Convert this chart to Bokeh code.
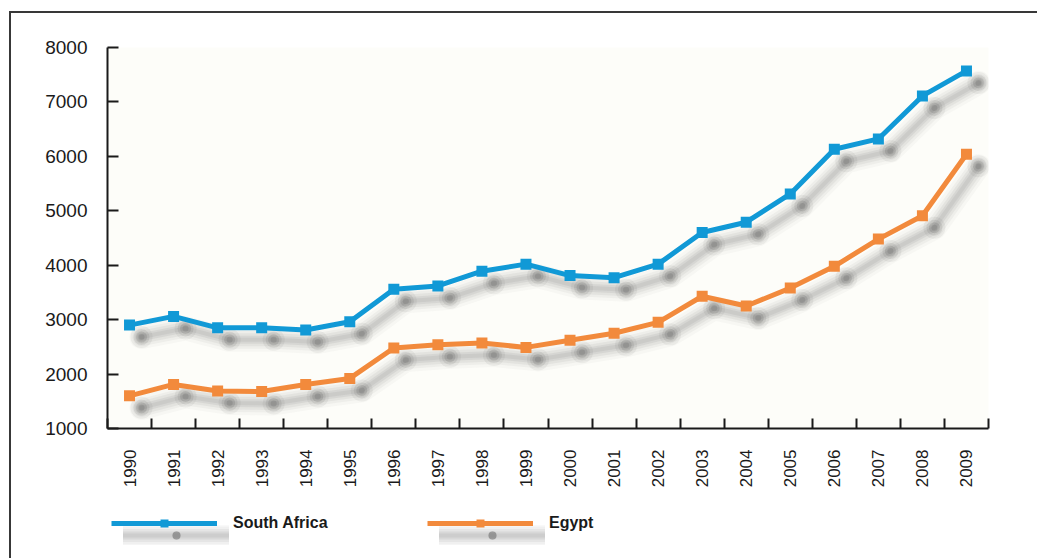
import math
import numpy as np
from bokeh.plotting import figure
from bokeh.layouts import column
from bokeh.models import Range1d, FixedTicker, Legend, LegendItem
from bokeh.embed import file_html
from bokeh.resources import INLINE

# Annual series, 1990-2009
years = list(range(1990, 2010))
south_africa = [2900, 3060, 2850, 2850, 2810, 2960, 3560, 3620, 3890, 4020,
                3810, 3770, 4020, 4600, 4790, 5310, 6130, 6320, 7110, 7570]
egypt = [1600, 1810, 1690, 1680, 1810, 1920, 2480, 2540, 2570, 2490,
         2620, 2750, 2950, 3430, 3250, 3580, 3980, 4480, 4910, 6040]
y_ticks = [1000, 2000, 3000, 4000, 5000, 6000, 7000, 8000]
series = [("South Africa", south_africa, "#1199d6"),
          ("Egypt", egypt, "#f28a3c")]

INK = "#1a1a1a"
FRAME = "2px solid #383838"

W, H = 1028, 482
LEFT, RIGHT, TOP, BOTTOM = 96, 51, 34, 67

p = figure(width=W, height=H, output_backend="svg", toolbar_location=None,
           x_range=Range1d(-0.5, len(years) - 0.5),
           y_range=Range1d(y_ticks[0], y_ticks[-1]),
           min_border_left=LEFT, min_border_right=RIGHT,
           min_border_top=TOP, min_border_bottom=BOTTOM,
           background_fill_color="#fdfdf9", border_fill_color="white",
           outline_line_color=None,
           styles={"border-top": FRAME, "border-left": FRAME})
p.grid.visible = False

# Drop shadow: soft grey copy of each series, shifted down-right by SH pixels
SH = 12
dx = SH * len(years) / (W - LEFT - RIGHT)
dy = -SH * (y_ticks[-1] - y_ticks[0]) / (H - TOP - BOTTOM)
SHADOW_LINES = [(24, 0.04), (18, 0.06), (13, 0.08), (8, 0.10), (4, 0.10)]
SHADOW_DOTS = [(22, 0.06), (16, 0.10), (11, 0.14), (6, 0.14)]


def shadow(fig, xs, ys):
    rs = []
    for w, a in SHADOW_LINES:
        rs.append(fig.line(xs, ys, line_color="#6a6a6a", line_width=w,
                           line_alpha=a, line_join="round", line_cap="round"))
    for s, a in SHADOW_DOTS:
        rs.append(fig.scatter(xs, ys, size=s, marker="circle", fill_color="#3a3a3a",
                              fill_alpha=a, line_color=None))
    return rs


def series_marks(fig, xs, ys, color):
    ln = fig.line(xs, ys, line_color=color, line_width=5, line_join="round")
    pts = fig.scatter(xs, ys, marker="square", size=11, fill_color=color, line_color=None)
    return [ln, pts]


idx = np.arange(len(years))
for _, vals, _c in series:
    shadow(p, idx + dx, np.array(vals) + dy)
for _, vals, color in series:
    series_marks(p, idx, vals, color)

# Axes
ya = p.yaxis[0]
ya.ticker = FixedTicker(ticks=y_ticks)
ya.axis_line_color = INK
ya.axis_line_width = 2
ya.major_tick_line_color = INK
ya.major_tick_line_width = 2
ya.major_tick_in = 11
ya.major_tick_out = 0
ya.minor_tick_line_color = None
ya.major_label_standoff = 20
ya.major_label_text_font = "Liberation Sans"
ya.major_label_text_font_size = "19px"
ya.major_label_text_color = INK

xa = p.xaxis[0]
xa.ticker = FixedTicker(ticks=list(idx), minor_ticks=[k - 0.5 for k in range(len(years) + 1)])
xa.major_label_overrides = {int(i): str(y) for i, y in zip(idx, years)}
xa.axis_line_color = INK
xa.axis_line_width = 2
xa.major_tick_line_color = None
xa.minor_tick_line_color = INK
xa.minor_tick_line_width = 2
xa.minor_tick_in = 10
xa.minor_tick_out = 0
xa.major_label_orientation = math.pi / 2
xa.major_label_standoff = 15
xa.major_label_text_font = "Liberation Sans"
xa.major_label_text_font_size = "17px"
xa.major_label_text_color = INK

# Legend strip below the chart; its key renderers sit outside the visible range
LH = 80
leg = figure(width=W, height=LH, output_backend="svg", toolbar_location=None,
             x_range=Range1d(0, 1), y_range=Range1d(0, 1),
             min_border_left=0, min_border_right=0, min_border_top=0, min_border_bottom=0,
             x_axis_location=None, y_axis_location=None,
             outline_line_color=None, background_fill_color="white",
             border_fill_color="white", styles={"border-left": FRAME})
leg.grid.visible = False

common = dict(orientation="horizontal", background_fill_alpha=0, border_line_color=None,
              padding=0, margin=0, spacing=0, glyph_width=106, glyph_height=20,
              label_height=20, label_standoff=16,
              label_text_font="Liberation Sans", label_text_font_size="16px",
              label_text_font_style="bold", label_text_color=INK)
LX, LY, STEP = 4, 40, 316
off = [-10, -9]
for k, (name, _v, color) in enumerate(series):
    x0 = LX + k * STEP
    sh = shadow(leg, off, off)
    mk = series_marks(leg, off, off, color)
    leg.add_layout(Legend(items=[LegendItem(label=" ", renderers=sh)],
                          location=(x0 + SH, LY - SH), **common), "center")
    leg.add_layout(Legend(items=[LegendItem(label=name, renderers=mk)],
                          location=(x0, LY), **common), "center")

page = column(p, leg, spacing=0, margin=(11, 0, 0, 9))

open("out.html", "w").write(file_html(page, INLINE))
